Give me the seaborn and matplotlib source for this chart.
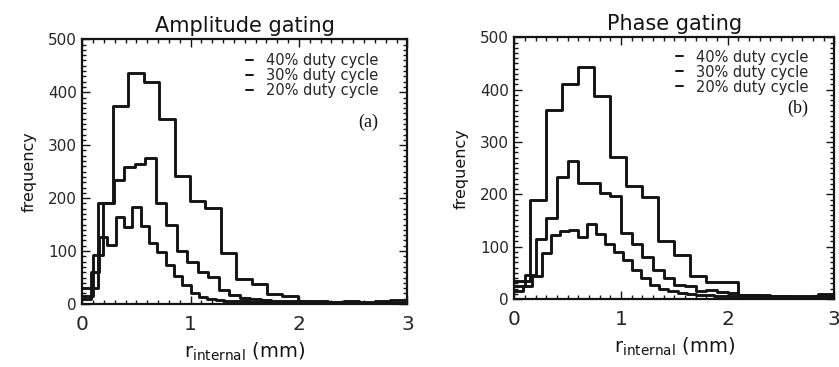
import numpy as np
import pandas as pd
import matplotlib
matplotlib.use("Agg")
import matplotlib.pyplot as plt
from matplotlib.lines import Line2D
from matplotlib.ticker import MultipleLocator
import seaborn as sns

# ---- data -------------------------------------------------------------
duty_labels = ["40% duty cycle", "30% duty cycle", "20% duty cycle"]

# Amplitude gating: bin widths (mm) and counts per bin, bins start at 0 mm
amp_widths = [0.142, 0.097, 0.077]
amp_40 = [30, 190, 374, 437, 419, 349, 242, 194, 181, 96, 48, 38, 18, 16,
          6, 5, 4, 5, 4, 5, 8]
amp_30 = [15, 93, 190, 234, 258, 265, 275, 190, 150, 101, 80, 61, 51, 26,
          17, 11, 9, 7, 6, 5, 5, 4, 4, 3, 3, 3, 2, 2, 2, 2, 2]
amp_20 = [10, 60, 127, 111, 165, 146, 184, 147, 116, 99, 74, 52, 36, 20,
          14, 9, 7, 6, 5, 5, 4, 4, 3, 3, 3, 3, 2, 2, 2, 2, 2, 2, 2, 2, 2,
          2, 2, 2, 2]

# Phase gating
phase_widths = [0.15, 0.10, 0.085]
phase_40 = [35, 189, 362, 411, 444, 388, 272, 215, 194, 110, 84, 44, 33, 33,
            8, 7, 6, 5, 6, 9]
phase_30 = [25, 45, 115, 154, 234, 264, 221, 222, 202, 196, 126, 106, 81,
            55, 40, 27, 25, 16, 17, 14, 12, 8, 7, 6, 5, 5, 4, 4, 5, 6]
phase_20 = [15, 25, 43, 88, 122, 130, 132, 119, 143, 125, 105, 90, 74, 55,
            40, 27, 20, 16, 12, 10, 8, 7, 6, 5, 5, 4, 4, 3, 3, 3, 3, 4, 4,
            5, 6, 6]

x_ticks = [0, 1, 2, 3]
y_ticks = [0, 100, 200, 300, 400, 500]

# ---- style ------------------------------------------------------------
sns.set_theme(style="ticks")
plt.rcParams["font.family"] = ["DejaVu Sans"]
plt.rcParams["mathtext.default"] = "regular"

LINE = "#141414"

fig = plt.figure(figsize=(8.39, 3.67), dpi=100)
ax_a = fig.add_axes([0.0981, 0.1717, 0.3874, 0.7213])
ax_b = fig.add_axes([0.6130, 0.1853, 0.3814, 0.7131])


def draw_panel(ax, series, widths, title, tag, legend_anchor, tag_xy):
    for counts, w in zip(series, widths):
        n = len(counts)
        edges = [i * w for i in range(n + 1)]
        hist = pd.DataFrame({
            "r": [(i + 0.5) * w for i in range(n)],
            "freq": [float(c) for c in counts],
        })
        sns.histplot(data=hist, x="r", weights="freq", bins=edges,
                     element="step", fill=False, color=LINE, linewidth=2.1,
                     ax=ax)

    ax.set_xlim(0, 3)
    ax.set_ylim(0, 500)
    ax.set_xticks(x_ticks)
    ax.set_yticks(y_ticks)
    ax.xaxis.set_minor_locator(MultipleLocator(0.1))
    ax.yaxis.set_minor_locator(MultipleLocator(10))
    ax.tick_params(which="both", direction="in", top=True, right=True,
                   color=LINE, width=1.0)
    ax.tick_params(which="major", length=6)
    ax.tick_params(which="minor", length=3)
    ax.tick_params(axis="x", which="major", labelsize=14.5, pad=8)
    ax.tick_params(axis="y", which="major", labelsize=11, pad=4)
    for sp in ax.spines.values():
        sp.set_linewidth(1.6)
        sp.set_color(LINE)

    ax.set_title(title, fontsize=15, pad=5, color=LINE)
    ax.set_ylabel("frequency", fontsize=11.5, labelpad=8, color=LINE)
    ax.set_xlabel(r"$r_{internal}$ (mm)", fontsize=14, labelpad=5,
                  color=LINE)

    handles = [Line2D([], [], color=LINE, lw=1.4) for _ in duty_labels]
    ax.legend(handles, duty_labels, loc="upper right",
              bbox_to_anchor=legend_anchor, frameon=False, fontsize=10.5,
              handlelength=0.5, handletextpad=0.9, labelspacing=0.0,
              borderpad=0, borderaxespad=0)

    ax.text(tag_xy[0], tag_xy[1], tag, transform=ax.transAxes,
            ha="right", va="center", fontsize=13,
            family="Liberation Serif", color=LINE)


draw_panel(ax_a, [amp_40, amp_30, amp_20], amp_widths, "Amplitude gating",
           "(a)", (0.912, 0.948), (0.91, 0.688))
draw_panel(ax_b, [phase_40, phase_30, phase_20], phase_widths, "Phase gating",
           "(b)", (0.920, 0.953), (0.918, 0.73))

fig.savefig("out.png", dpi=100)
